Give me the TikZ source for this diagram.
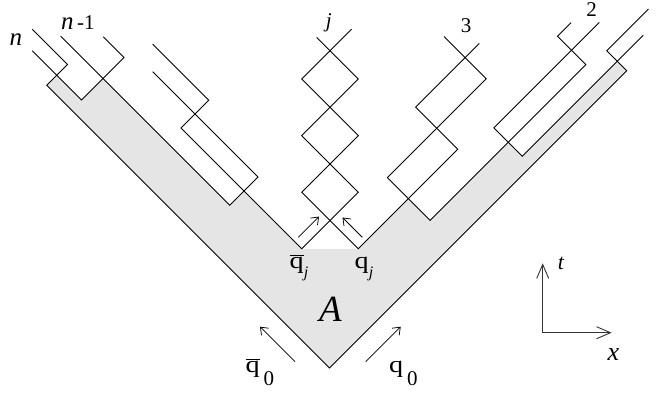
\documentclass[tikz,border=0pt]{standalone}
\usepackage{graphicx}
\usepackage{fontspec}
\setmainfont{Liberation Serif}
\usetikzlibrary{arrows.meta}
\definecolor{shadegray}{RGB}{229,229,229}
\newcommand{\wideq}{\scalebox{1.2}[1]{q}}
\tikzset{
  wl/.style={line width=0.9pt, line join=miter},
  qarrow/.style={line width=0.75pt, -{Straight Barb[length=6.5pt,width=10pt]}},
  axisarrow/.style={line width=0.9pt, black!80, -{Straight Barb[length=14pt,width=12pt]}},
  lab/.style={inner sep=0pt, font=\fontsize{21}{21}\selectfont},
  itlab/.style={inner sep=0pt, font=\fontsize{25}{25}\selectfont\itshape},
  qlab/.style={inner sep=0pt, font=\fontsize{23.5}{23.5}\selectfont},
  sublab/.style={inner sep=0pt, font=\fontsize{16}{16}\selectfont\itshape},
  zerolab/.style={inner sep=0pt, font=\fontsize{21}{21}\selectfont},
}
\begin{document}
\begin{tikzpicture}[x=1pt,y=-1pt]
\useasboundingbox (0,0) rectangle (657,392);
% outer line
\coordinate (o1) at (32.3,29.3);
\coordinate (o2) at (67.5,64.5);
\coordinate (o3) at (46.75,85.25);
\coordinate (bot) at (329.5,368);
\coordinate (o5) at (626.75,70.75);
\coordinate (o6) at (606.75,50.75);
\coordinate (o7) at (648.5,9);
% n / n-1 link
\coordinate (b1) at (32.3,50.8);
\coordinate (b2) at (81.5,100);
\coordinate (b3) at (124.05,57.45);
\coordinate (b4) at (103.3,36.7);
% n-1 / k link
\coordinate (c1) at (60.7,36.2);
\coordinate (c2) at (229.75,205.25);
\coordinate (c3) at (258,177);
\coordinate (c4) at (152.7,71.7);
% k / j line
\coordinate (d1) at (152.7,44.2);
\coordinate (d2) at (208.75,100.25);
\coordinate (d3) at (180.95,128.05);
\coordinate (qbj) at (301.7,248.8);
\coordinate (d5) at (358.3,192.2);
\coordinate (d6) at (301.7,135.6);
\coordinate (d7) at (358.3,79);
\coordinate (d8) at (316.7,37.4);
% j / 3 line
\coordinate (e1) at (351.5,29.2);
\coordinate (e2) at (301.7,79);
\coordinate (e3) at (358.3,135.6);
\coordinate (e4) at (301.7,192.2);
\coordinate (qj) at (358.3,248.8);
\coordinate (e6) at (457.8,149.3);
\coordinate (e7) at (415.65,107.15);
\coordinate (e8) at (479.3,43.5);
% 3 / 2 line
\coordinate (f1) at (444,36.5);
\coordinate (f2) at (486.25,78.75);
\coordinate (f3) at (387.35,177.65);
\coordinate (f4) at (430.1,220.4);
\coordinate (f5) at (585.9,64.6);
\coordinate (f6) at (557.5,36.2);
\coordinate (f7) at (571,22.7);
% 2 / 1 line
\coordinate (g1) at (599.3,22.4);
\coordinate (g2) at (493.85,127.85);
\coordinate (g3) at (522.3,156.3);
\coordinate (g4) at (643.3,35.3);
% shaded region A
\fill[shadegray] (o3) -- (bot) -- (o5) -- (617.3,61.3) -- (g3) -- (508.25,142.25)
  -- (f4) -- (408.4,198.7) -- (qj) -- (qbj) -- (243.95,191.05) -- (c2)
  -- (103,78.5) -- (b2) -- (56.75,75.25) -- cycle;
% world lines
\draw[wl] (o1) -- (o2) -- (o3) -- (bot) -- (o5) -- (o6) -- (o7);
\draw[wl] (b1) -- (b2) -- (b3) -- (b4);
\draw[wl] (c1) -- (c2) -- (c3) -- (c4);
\draw[wl] (d1) -- (d2) -- (d3) -- (qbj) -- (d5) -- (d6) -- (d7) -- (d8);
\draw[wl] (e1) -- (e2) -- (e3) -- (e4) -- (qj) -- (e6) -- (e7) -- (e8);
\draw[wl] (f1) -- (f2) -- (f3) -- (f4) -- (f5) -- (f6) -- (f7);
\draw[wl] (g1) -- (g2) -- (g3) -- (g4);
% small arrows
\coordinate (aqbjs) at (298.3,237.3);
\coordinate (aqbje) at (319,216.6);
\coordinate (aqjs) at (362.3,237.3);
\coordinate (aqje) at (342.5,217.5);
\coordinate (aqbzs) at (295,361.7);
\coordinate (aqbze) at (260,326.7);
\coordinate (aqzs) at (365.7,361.7);
\coordinate (aqze) at (400.7,326.7);
\draw[qarrow] (aqbjs) -- (aqbje);
\draw[qarrow] (aqjs) -- (aqje);
\draw[qarrow] (aqbzs) -- (aqbze);
\draw[qarrow] (aqzs) -- (aqze);
% axes
\coordinate (ax0) at (542.7,332.7);
\coordinate (axt) at (542.7,263.3);
\coordinate (axx) at (611.7,332.7);
\draw[axisarrow] (ax0) -- (axt);
\draw[axisarrow] (ax0) -- (axx);
% labels
\node[itlab, anchor=base west] (ln) at (9.5,45) {n};
\node[inner sep=0pt, anchor=base west] (ln1) at (61,29.3)
  {{\fontsize{25}{25}\selectfont\itshape n}{\fontsize{21}{21}\selectfont\,-1}};
\node[lab] (lj) at (328.8,22.5) {\textit{j}};
\node[lab] (l3) at (466,26) {3};
\node[lab] (l2) at (591.7,9.5) {2};
\node[inner sep=0pt, font=\fontsize{37}{37}\selectfont] (lA) at (330.5,309) {\textit{A}};
\node[inner sep=0pt, font=\fontsize{22}{22}\selectfont\itshape] (lt) at (561,263.5) {t};
\node[inner sep=0pt, font=\fontsize{26}{26}\selectfont\itshape] (lx) at (613.3,355) {x};
\node[qlab, anchor=base west] (lqbj) at (289.5,268) {$\overline{\mbox{\wideq}}$};
\node[sublab] (lqbjs) at (306,274) {j};
\node[qlab, anchor=base west] (lqj) at (354.5,268) {\wideq};
\node[sublab] (lqjs) at (371.2,274) {j};
\node[qlab, anchor=base west] (lqb0) at (245.5,372) {$\overline{\mbox{\wideq}}$};
\node[zerolab, anchor=base west] (lqb0s) at (263.5,385) {0};
\node[qlab, anchor=base west] (lq0) at (389,372.5) {\wideq};
\node[zerolab, anchor=base west] (lq0s) at (407,385) {0};
\end{tikzpicture}
\end{document}
